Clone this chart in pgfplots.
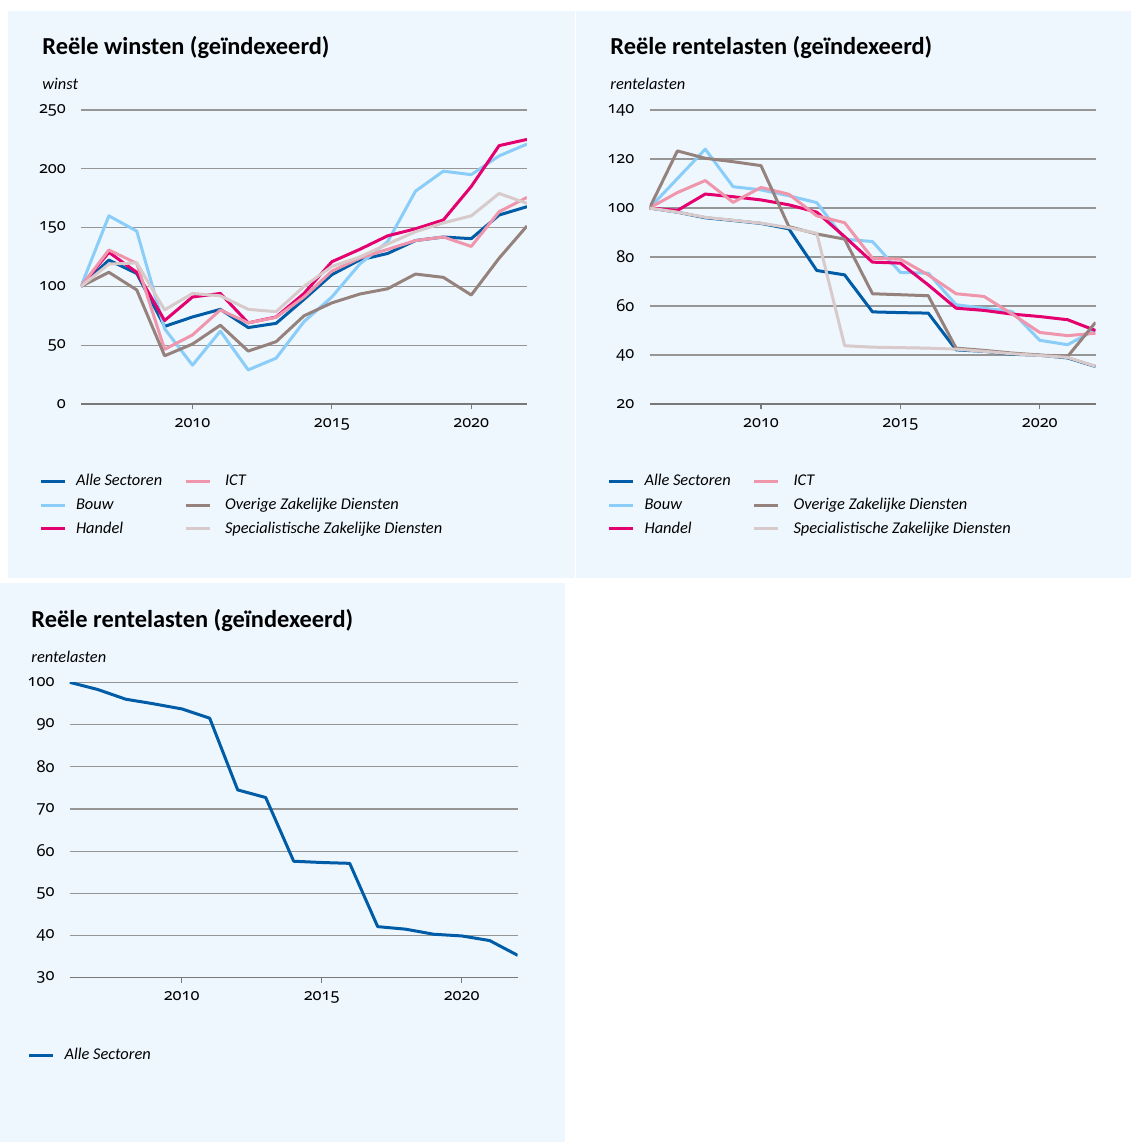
\documentclass[border=0pt]{standalone}
\usepackage{pgfplots}
\pgfplotsset{compat=1.18}
\usepackage{pgfplotstable}
\usepackage{fontspec}
\setmainfont{Carlito}
\newfontfamily\tickfam{Noto Sans}[Numbers=OldStyle]

\definecolor{panelbg}{RGB}{238,247,254}
\definecolor{gridgrey}{RGB}{150,150,150}
\definecolor{axisgrey}{RGB}{120,120,120}
\definecolor{calle}{RGB}{0,92,166}
\definecolor{cbouw}{RGB}{138,205,248}
\definecolor{chandel}{RGB}{228,0,110}
\definecolor{cict}{RGB}{240,150,172}
\definecolor{cover}{RGB}{150,130,124}
\definecolor{cspec}{RGB}{216,202,202}

\newcommand\legfont{\fontsize{8.2}{10}\selectfont\itshape}
\newcommand\tickfont{\tickfam\fontsize{8.2}{10}\selectfont}
\newcommand\titlefont{\fontsize{12.2}{14}\selectfont\bfseries}

\pgfplotstableread{
year alle bouw handel ict overige spec
2006 100 100 100 100 100 100
2007 122.4 160 129 131 112 119
2008 111 147 112 119.6 97 120
2009 66 64 71 46.5 41 80
2010 74 33 91 58.7 51 94
2011 80.5 62 94 80 67 92
2012 65 29 69 69 45 80.5
2013 68.6 39 74 73.7 53 78.5
2014 89 70 94 91 75 100
2015 110 91 121 113 86 117
2016 122.5 119 131.5 124 93.5 125
2017 128 138 143 131.5 98 136
2018 139 181 149 139 110.5 146.5
2019 142 198 156.5 142 107.7 154
2020 140.6 195 185 134 92.7 160
2021 160.7 211 219.7 163.5 124 179
2022 167.8 221 225 175.7 151.4 170.6
}\winst

\pgfplotstableread{
year alle bouw handel ict overige spec
2006 100 100 100 100 100 100
2007 98.3 112 99 106.3 123.3 98.3
2008 96 124 105.7 111.2 120.3 96.2
2009 94.9 108.7 104.6 102.3 118.9 95
2010 93.7 107.4 103.3 108.4 117.3 93.8
2011 91.5 105 101.3 105.6 92.4 92
2012 74.5 102.2 98.3 96.8 89.4 89.7
2013 72.7 87.3 88.3 94 87.3 43.8
2014 57.6 86.3 77.9 79.5 65 43.2
2015 57.3 73.7 77.5 79.1 64.6 43
2016 57.1 73.4 68.6 72.7 64.2 42.8
2017 42.1 60.5 59.1 65 42.8 42.4
2018 41.5 59.1 58.2 63.9 41.9 41.5
2019 40.3 57.8 56.7 56.8 40.8 40.5
2020 39.9 46 55.7 49.2 40 39.8
2021 38.8 44.2 54.4 47.9 39.4 39
2022 35.3 50.3 50 48.9 53.3 35.4
}\rente

\pgfplotsset{
  rostyle/.style={
    scale only axis,
    xmin=2006, xmax=2022,
    axis lines*=left,
    y axis line style={draw=none},
    x axis line style={draw=axisgrey, line width=0.7pt},
    ymajorgrids,
    grid style={draw=gridgrey, line width=0.6pt},
    xtick={2010,2015,2020},
    tick align=outside,
    major tick length=2.5pt,
    xtick style={draw=axisgrey, line width=0.6pt},
    ytick style={draw=none},
    /pgf/number format/1000 sep={},
    /pgf/number format/assume math mode=true,
    xticklabel={\tickfont\pgfmathprintnumber{\tick}},
    yticklabel={\tickfont\pgfmathprintnumber{\tick}},
    tick label style={font=\tickfont},
    yticklabel style={xshift=-1.5pt},
    xticklabel style={yshift=-1pt},
    legend image code/.code={\draw[#1] (0pt,0pt) -- (12pt,0pt);},
    legend cell align=left,
    legend style={at={(axis description cs:-0.0941,-0.234)}, anchor=north west,
      draw=none, fill=none, inner sep=0pt, outer sep=0pt, font=\legfont,
      row sep=3.4pt, column sep=5pt,
      nodes={inner sep=0pt, text height=6.5pt, text depth=2pt}},
    every axis plot/.append style={line width=1.5pt, line join=round},
  }
}

\begin{document}
\begin{tikzpicture}
\begin{scope}[x=0.5pt,y=-0.5pt]
  \useasboundingbox (0,0) rectangle (1131,1142);
  \fill[panelbg] (8,11) rectangle (575,578);
  \fill[panelbg] (576,11) rectangle (1131,578);
  \fill[panelbg] (0,583) rectangle (565,1142);
  \node[anchor=base west, inner sep=0pt, font=\titlefont] at (42,54) {Reële winsten (geïndexeerd)};
  \node[anchor=base west, inner sep=0pt, font=\legfont] at (42,89) {winst};
  \node[anchor=base west, inner sep=0pt, font=\titlefont] at (610,54) {Reële rentelasten (geïndexeerd)};
  \node[anchor=base west, inner sep=0pt, font=\legfont] at (610,89) {rentelasten};
  \node[anchor=base west, inner sep=0pt, font=\titlefont] at (31,627) {Reële rentelasten (geïndexeerd)};
  \node[anchor=base west, inner sep=0pt, font=\legfont] at (31,662) {rentelasten};
\end{scope}

% Panel 1
\begin{axis}[rostyle, at={(40.5pt,-55pt)}, anchor=north west,
  width=223pt, height=147pt, ymin=0, ymax=250, ytick={0,50,...,250},
  transpose legend, legend columns=3]
\addplot[calle] table[x=year,y=alle] {\winst};
\addlegendentry{\makebox[49pt][l]{Alle Sectoren}}
\addplot[cbouw] table[x=year,y=bouw] {\winst};
\addlegendentry{\makebox[49pt][l]{Bouw}}
\addplot[chandel] table[x=year,y=handel] {\winst};
\addlegendentry{\makebox[49pt][l]{Handel}}
\addplot[cict] table[x=year,y=ict] {\winst};
\addlegendentry{\hspace{2pt}ICT}
\addplot[cover] table[x=year,y=overige] {\winst};
\addlegendentry{\hspace{2pt}Overige Zakelijke Diensten}
\addplot[cspec] table[x=year,y=spec] {\winst};
\addlegendentry{\hspace{2pt}Specialistische Zakelijke Diensten}
\end{axis}

% Panel 2
\begin{axis}[rostyle, at={(324.75pt,-55pt)}, anchor=north west,
  width=223pt, height=147pt, ymin=20, ymax=140, ytick={20,40,...,140},
  transpose legend, legend columns=3]
\addplot[calle] table[x=year,y=alle] {\rente};
\addlegendentry{\makebox[49pt][l]{Alle Sectoren}}
\addplot[cbouw] table[x=year,y=bouw] {\rente};
\addlegendentry{\makebox[49pt][l]{Bouw}}
\addplot[chandel] table[x=year,y=handel] {\rente};
\addlegendentry{\makebox[49pt][l]{Handel}}
\addplot[cict] table[x=year,y=ict] {\rente};
\addlegendentry{\hspace{2pt}ICT}
\addplot[cover] table[x=year,y=overige] {\rente};
\addlegendentry{\hspace{2pt}Overige Zakelijke Diensten}
\addplot[cspec] table[x=year,y=spec] {\rente};
\addlegendentry{\hspace{2pt}Specialistische Zakelijke Diensten}
\end{axis}

% Panel 3
\begin{axis}[rostyle, at={(34.85pt,-341.15pt)}, anchor=north west,
  width=224pt, height=147.7pt, ymin=30, ymax=100, ytick={30,40,...,100}]
\addplot[calle] table[x=year,y=alle] {\rente};
\addlegendentry{Alle Sectoren}
\end{axis}
\end{tikzpicture}
\end{document}
